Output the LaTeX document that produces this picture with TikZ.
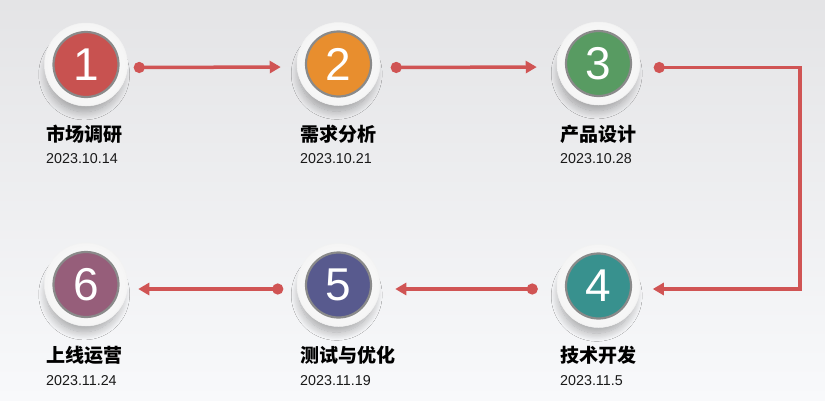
\documentclass[tikz,border=0pt]{standalone}
\usepackage{fontspec}
\setmainfont{Liberation Sans}
\newfontfamily\cjk{Noto Sans CJK SC}
\usetikzlibrary{arrows.meta,shadows.blur}
\definecolor{bgtop}{RGB}{228,228,230}
\definecolor{bgbot}{RGB}{248,249,251}
\definecolor{arrowred}{RGB}{208,84,84}
\definecolor{cA}{RGB}{200,82,80}
\definecolor{cB}{RGB}{232,142,46}
\definecolor{cC}{RGB}{88,155,98}
\definecolor{cD}{RGB}{56,145,142}
\definecolor{cE}{RGB}{88,90,142}
\definecolor{cF}{RGB}{150,94,122}
\definecolor{rimgray}{RGB}{138,138,138}
\tikzset{
  ring/.style={circle, minimum size=83pt, inner sep=0pt, draw=gray!10, line width=0.5pt,
    inner color=white, outer color=gray!8,
    blur shadow={shadow xshift=-2pt, shadow yshift=-11pt, shadow scale=0.9, shadow blur radius=9pt, shadow blur steps=14, shadow opacity=32}},
  disc/.style={circle, minimum size=65pt, inner sep=0pt, draw=rimgray, line width=2.2pt,
    text=white, font=\fontsize{46}{46}\selectfont},
  title/.style={anchor=west, inner sep=0pt, font=\cjk\bfseries\fontsize{19}{19}\selectfont, text=black},
  datelbl/.style={anchor=west, inner sep=0pt, font=\fontsize{14.3}{14.3}\selectfont, text=black!90},
  conn/.style={draw=arrowred, line width=3.5pt, {Circle[length=11pt]}-{Triangle[length=11pt,width=12pt]}}
}
\begin{document}
\begin{tikzpicture}[x=1pt,y=-1pt]
\useasboundingbox (0,0) rectangle (825,400);
\shade[top color=bgtop, bottom color=bgbot] (0,0) rectangle (825,400);
% circles
\node[ring] (n1) at (86,64.5) {};
\node[disc, fill=cA] (d1) at (n1) {1};
\node[ring] (n2) at (338.5,64) {};
\node[disc, fill=cB] (d2) at (n2) {2};
\node[ring] (n3) at (598.5,63.5) {};
\node[disc, fill=cC] (d3) at (n3) {3};
\node[ring] (n4) at (598.5,286) {};
\node[disc, fill=cD] (d4) at (n4) {4};
\node[ring] (n5) at (338.5,285) {};
\node[disc, fill=cE] (d5) at (n5) {5};
\node[ring] (n6) at (86,284.5) {};
\node[disc, fill=cF] (d6) at (n6) {6};
% labels
\node[title] (t1) at (46,134) {市场调研};
\node[datelbl] (s1) at (46,159) {2023.10.14};
\node[title] (t2) at (300,134) {需求分析};
\node[datelbl] (s2) at (300,159) {2023.10.21};
\node[title] (t3) at (560,134) {产品设计};
\node[datelbl] (s3) at (560,159) {2023.10.28};
\node[title] (t4) at (560,355) {技术开发};
\node[datelbl] (s4) at (560,381) {2023.11.5};
\node[title] (t5) at (300,355) {测试与优化};
\node[datelbl] (s5) at (300,381) {2023.11.19};
\node[title] (t6) at (46,355) {上线运营};
\node[datelbl] (s6) at (46,381) {2023.11.24};
% connectors
\coordinate (c1) at (800,67.5);
\coordinate (c2) at (800,289);
\draw[conn, shorten <=6pt, shorten >=16pt] ([yshift=-3pt]n1.east) -- ([yshift=-3pt]n2.west);
\draw[conn, shorten <=10.5pt, shorten >=20pt] ([yshift=-3.5pt]n2.east) -- ([yshift=-3.5pt]n3.west);
\draw[conn, shorten <=13.5pt, shorten >=12.5pt] ([yshift=-4pt]n3.east) -- (c1) -- (c2) -- ([yshift=-3pt]n4.east);
\draw[conn, shorten <=19pt, shorten >=15pt] ([yshift=-3pt]n4.west) -- ([yshift=-4pt]n5.east);
\draw[conn, shorten <=13.5pt, shorten >=10.5pt] ([yshift=-4pt]n5.west) -- ([yshift=-4.5pt]n6.east);
\end{tikzpicture}
\end{document}
